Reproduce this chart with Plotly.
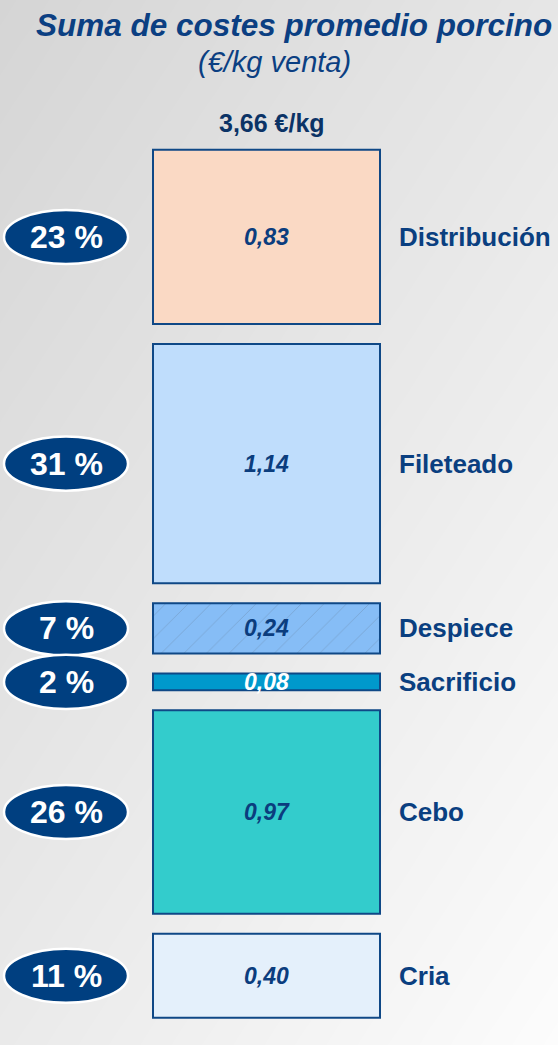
import numpy as np
import plotly.graph_objects as go

# ---- data (top to bottom) ----
categories = ["Distribución", "Fileteado", "Despiece", "Sacrificio", "Cebo", "Cria"]
costs = [0.83, 1.14, 0.24, 0.08, 0.97, 0.40]
shares = [23, 31, 7, 2, 26, 11]
total_label = "3,66 €/kg"
title_text = "Suma de costes promedio porcino"
subtitle_text = "(€/kg venta)"

# ---- styles ----
fills = ["#fad9c4", "#bfddfc", "#86bdf6", "#0099cc", "#33cccc", "#e4f0fb"]
value_colors = ["#0b3d7e", "#0b3d7e", "#0b3d7e", "#ffffff", "#0b3d7e", "#0b3d7e"]
patterns = ["", "", "/", "", "", ""]
border = "#0f4886"
navy = "#003f80"
label_color = "#0a3f80"
FONT = "Liberation Sans, Arial, sans-serif"

W, H = 558, 1045
gap = 0.095          # vertical gap between boxes (in €/kg units)
y_range = [-0.13, 4.849]
box_x, box_w = 266.5, 227
pill_x0, pill_x1 = 4, 128
pill_h = 0.258

# stack from the bottom (Cria) upward
bases = [0.0] * len(costs)
acc = 0.0
for i in reversed(range(len(costs))):
    bases[i] = acc
    acc += costs[i] + gap
centers = [b + c / 2 for b, c in zip(bases, costs)]

fig = go.Figure()

# background gradient
gx = np.linspace(0, W, 40)
gy = np.linspace(y_range[0], y_range[1], 60)
GX, GY = np.meshgrid(gx, gy)
Z = (GX / W) * 0.45 + (1 - (GY - y_range[0]) / (y_range[1] - y_range[0])) * 0.55
fig.add_trace(go.Heatmap(
    x=gx, y=gy, z=Z, zsmooth="best", showscale=False, hoverinfo="skip",
    colorscale=[[0, "#d5d5d5"], [0.6, "#ececec"], [1, "#fcfcfc"]],
))

fig.add_trace(go.Bar(
    x=[box_x] * len(costs), y=costs, base=bases, width=box_w,
    marker=dict(color=fills, line=dict(color=border, width=2),
                pattern=dict(shape=patterns, fgcolor="#ffffff", fgopacity=0.22,
                             size=16, solidity=0.05)),
    hoverinfo="skip", showlegend=False,
))

annotations = []
shapes = []
for cat, v, s, cy, vc in zip(categories, costs, shares, centers, value_colors):
    annotations.append(dict(x=box_x, y=cy, xref="x", yref="y", showarrow=False,
                            text=f"{v:.2f}".replace(".", ","),
                            font=dict(family=FONT, size=23, color=vc, weight="bold", style="italic")))
    annotations.append(dict(x=397, y=cy, xref="x", yref="y", showarrow=False, xanchor="left",
                            text=cat, font=dict(family=FONT, size=26, color=label_color, weight="bold")))
    shapes.append(dict(type="circle", xref="x", yref="y", x0=pill_x0, x1=pill_x1,
                       y0=cy - pill_h / 2, y1=cy + pill_h / 2,
                       fillcolor=navy, line=dict(color="#ffffff", width=2.5), layer="above"))
    annotations.append(dict(x=(pill_x0 + pill_x1) / 2, y=cy, xref="x", yref="y", showarrow=False,
                            text=f"{s} %", font=dict(family=FONT, size=32, color="#ffffff", weight="bold")))

annotations += [
    dict(x=294 / W, y=1 - 25 / H, xref="paper", yref="paper", showarrow=False,
         xanchor="center", yanchor="middle",
         text=f"<b><i>{title_text}</i></b>", font=dict(family=FONT, size=31.5, color="#0b3f82")),
    dict(x=274 / W, y=1 - 62 / H, xref="paper", yref="paper", showarrow=False,
         xanchor="center", yanchor="middle",
         text=f"<i>{subtitle_text}</i>", font=dict(family=FONT, size=29, color="#0b3f82")),
    dict(x=272 / W, y=1 - 123 / H, xref="paper", yref="paper", showarrow=False,
         xanchor="center", yanchor="middle",
         text=f"<b>{total_label}</b>", font=dict(family=FONT, size=25, color="#0b3366")),
]

fig.update_layout(
    width=W, height=H, margin=dict(l=0, r=0, t=0, b=0),
    barmode="overlay",
    paper_bgcolor="#e6e6e6", plot_bgcolor="#e6e6e6",
    xaxis=dict(range=[0, W], visible=False, fixedrange=True),
    yaxis=dict(range=y_range, visible=False, fixedrange=True),
    shapes=shapes, annotations=annotations, showlegend=False,
)

fig.write_html("out.html", config={"displayModeBar": False},
               post_script="document.body.style.margin='0';document.body.style.overflow='hidden';")
